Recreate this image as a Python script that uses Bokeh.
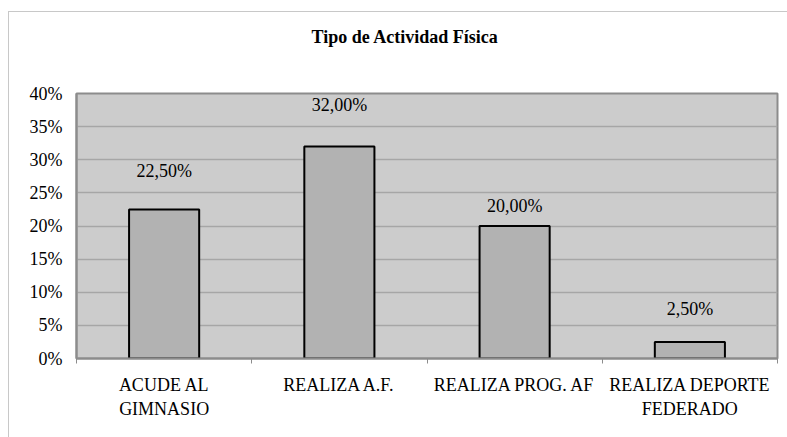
from bokeh.plotting import figure
from bokeh.models import Range1d, FixedTicker, LinearAxis, LabelSet, ColumnDataSource
from bokeh.embed import file_html
from bokeh.resources import INLINE
from bokeh.core.properties import value

title_text = "Tipo de Actividad Física"
categories = ["ACUDE AL\nGIMNASIO", "REALIZA A.F.", "REALIZA PROG. AF", "REALIZA DEPORTE\nFEDERADO"]
percentages = [22.5, 32.0, 20.0, 2.5]
value_labels = ["22,50%", "32,00%", "20,00%", "2,50%"]
y_ticks = [0, 5, 10, 15, 20, 25, 30, 35, 40]

# styling: pixel lift of each value label above its bar
label_lift_px = [38, 42, 20, 33]

SERIF = '"Liberation Serif"'
FS = "18px"

xs = [i + 0.5 for i in range(len(categories))]
src = ColumnDataSource(dict(x=xs, top=percentages, lab=value_labels, lift=label_lift_px))

p = figure(width=787, height=437, output_backend="svg", toolbar_location=None,
           x_range=Range1d(0, len(categories)), y_range=Range1d(0, y_ticks[-1]),
           min_border_left=76, min_border_right=10, min_border_top=93, min_border_bottom=79,
           background_fill_color="#CCCCCC", border_fill_color=None)

# outer chart border (light gray, left and top edges visible)
p.styles = {
    "background-color": "white",
    "background-image": "linear-gradient(#C8C8C8, #C8C8C8), linear-gradient(#C8C8C8, #C8C8C8)",
    "background-position": "8px 11px, 8px 11px",
    "background-size": "1px 100%, 100% 1px",
    "background-repeat": "no-repeat",
}

p.outline_line_color = "#8C8C8C"
p.outline_line_width = 2

# title: a blank second line lifts the text higher above the plot area
p.title.text = title_text + "\n\u00a0"
p.title.text_font = SERIF
p.title.text_font_style = "bold"
p.title.text_font_size = FS
p.title.text_line_height = 1.2
p.title.align = "left"
p.title.offset = 235
p.title.text_color = "black"
p.title.standoff = 46

# y axis
p.yaxis.ticker = FixedTicker(ticks=y_ticks)
p.yaxis.major_label_overrides = {t: f"{t}%" for t in y_ticks}
p.yaxis.major_label_text_font = SERIF
p.yaxis.major_label_text_font_size = FS
p.yaxis.major_label_text_color = "black"
p.yaxis.major_tick_out = 0
p.yaxis.major_tick_in = 0
p.yaxis.minor_tick_line_color = None
p.yaxis.axis_line_color = "#8C8C8C"
p.yaxis.axis_line_width = 2
p.yaxis.major_label_standoff = 14

p.ygrid.ticker = FixedTicker(ticks=y_ticks)
p.ygrid.grid_line_color = "#A6A6A6"
p.ygrid.grid_line_width = 1.5
p.xgrid.grid_line_color = None

# x axis: tick marks at category boundaries
bounds = list(range(len(categories) + 1))
p.xaxis.ticker = FixedTicker(ticks=bounds)
p.xaxis.major_label_overrides = {b: "" for b in bounds}
p.xaxis.major_label_text_font_size = "1px"
p.xaxis.major_tick_out = 5
p.xaxis.major_tick_in = 0
p.xaxis.major_tick_line_color = "#8C8C8C"
p.xaxis.minor_tick_line_color = None
p.xaxis.axis_line_color = "#8C8C8C"
p.xaxis.axis_line_width = 2
p.xaxis.major_label_standoff = 0

# category labels
cat_axis = LinearAxis(ticker=FixedTicker(ticks=xs),
                      major_label_overrides={x: c for x, c in zip(xs, categories)})
cat_axis.axis_line_color = None
cat_axis.major_tick_line_color = None
cat_axis.minor_tick_line_color = None
cat_axis.major_label_text_font = SERIF
cat_axis.major_label_text_font_size = FS
cat_axis.major_label_text_color = "black"
cat_axis.major_label_text_line_height = 1.2
cat_axis.major_label_standoff = 5
p.add_layout(cat_axis, "below")

p.vbar(x="x", top="top", width=0.4, source=src, fill_color="#B2B2B2",
       line_color="black", line_width=2)

labels = LabelSet(x="x", y="top", text="lab", y_offset="lift", source=src,
                  text_align="center", text_baseline="middle",
                  text_font=value(SERIF), text_font_size=FS, text_color="black")
p.add_layout(labels)

open("out.html", "w").write(file_html(p, INLINE))
